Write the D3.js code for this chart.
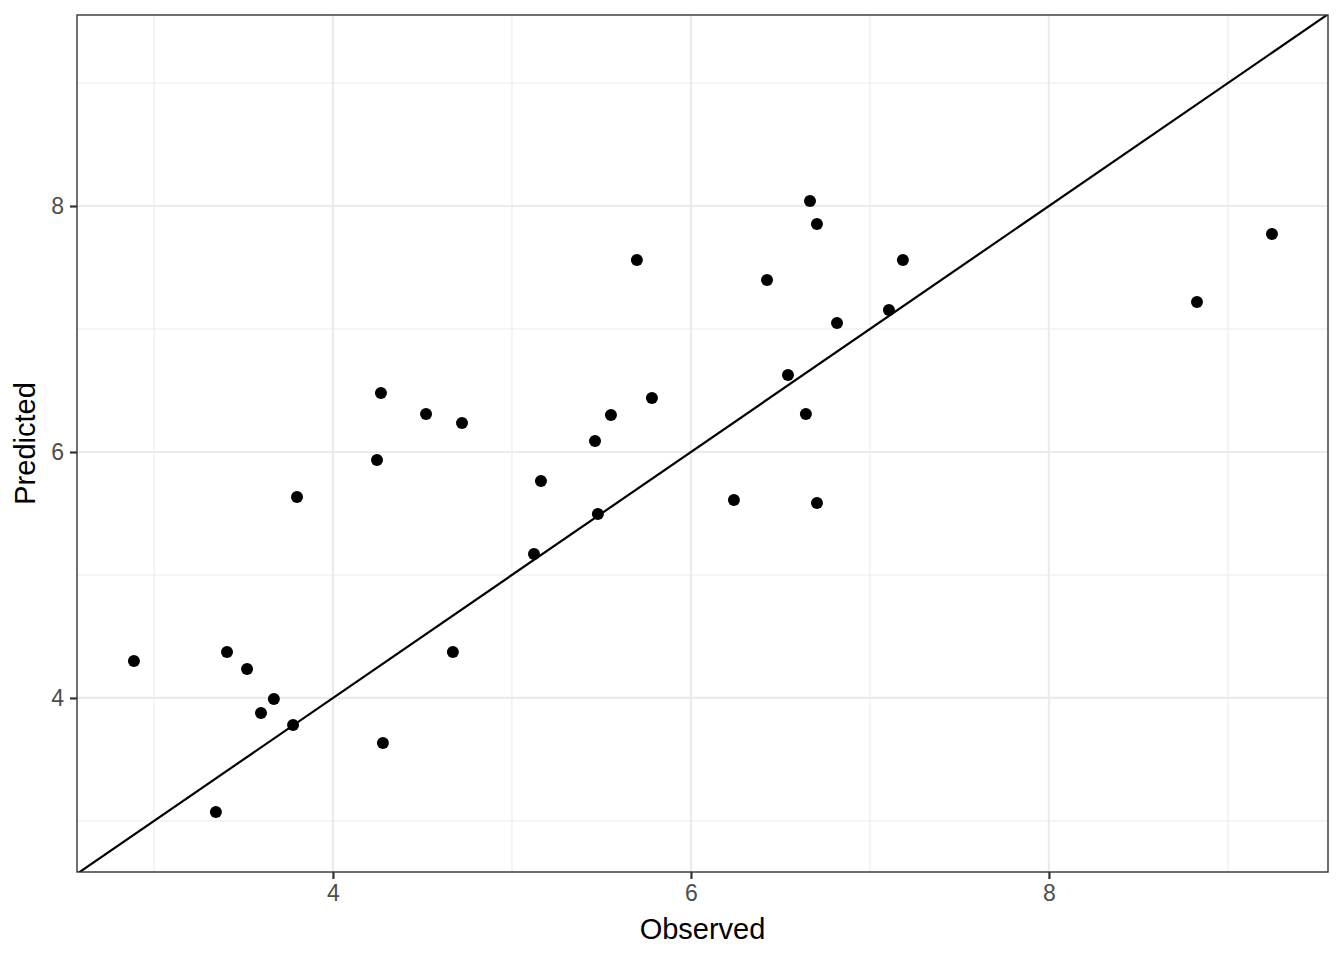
<!DOCTYPE html>
<html><head><meta charset="utf-8">
<script src="https://cdn.jsdelivr.net/npm/d3@7"></script>
<style>body{margin:0;background:#fff;} svg{display:block;font-family:"Liberation Sans",Arial,sans-serif;}</style>
</head><body>
<svg id="chart" width="1344" height="960"></svg>
<script>
const observed = [2.888,3.346,3.408,3.520,3.598,3.670,3.777,3.799,4.246,4.268,4.279,4.520,4.670,4.721,5.123,5.162,5.464,5.480,5.553,5.698,5.782,6.240,6.425,6.542,6.642,6.665,6.704,6.704,6.816,7.106,7.184,8.827,9.246];
const predicted = [4.301,3.073,4.374,4.236,3.878,3.992,3.780,5.634,5.935,6.480,3.634,6.309,4.374,6.236,5.171,5.764,6.089,5.496,6.301,7.561,6.439,5.610,7.398,6.626,6.309,8.041,7.854,5.585,7.049,7.154,7.561,7.220,7.772];
const xTicks = [4,6,8];
const yTicks = [4,6,8];
const xMinor = [3,5,7,9];
const yMinor = [3,5,7,9];
const xLabel = "Observed";
const yLabel = "Predicted";

const svg = d3.select("#chart");
const m = {left:77, right:1328, top:15, bottom:872};
const x = d3.scaleLinear().domain([2.570, 9.559]).range([m.left, m.right]);
const y = d3.scaleLinear().domain([2.585, 9.553]).range([m.bottom, m.top]);

const g = svg.append("g");
// grid
g.selectAll(".xmin").data(xMinor).join("line").attr("x1",d=>x(d)).attr("x2",d=>x(d)).attr("y1",m.top).attr("y2",m.bottom).attr("stroke","#ebebeb").attr("stroke-width",1.1);
g.selectAll(".ymin").data(yMinor).join("line").attr("y1",d=>y(d)).attr("y2",d=>y(d)).attr("x1",m.left).attr("x2",m.right).attr("stroke","#ebebeb").attr("stroke-width",1.1);
g.selectAll(".xmaj").data(xTicks).join("line").attr("x1",d=>x(d)).attr("x2",d=>x(d)).attr("y1",m.top).attr("y2",m.bottom).attr("stroke","#ebebeb").attr("stroke-width",2.2);
g.selectAll(".ymaj").data(yTicks).join("line").attr("y1",d=>y(d)).attr("y2",d=>y(d)).attr("x1",m.left).attr("x2",m.right).attr("stroke","#ebebeb").attr("stroke-width",2.2);

// clip
svg.append("clipPath").attr("id","clip").append("rect").attr("x",m.left).attr("y",m.top).attr("width",m.right-m.left).attr("height",m.bottom-m.top);

// identity line
const lo = Math.min(x.domain()[0], y.domain()[0]), hi = Math.max(x.domain()[1], y.domain()[1]);
svg.append("line").attr("clip-path","url(#clip)")
  .attr("x1",x(lo)).attr("y1",y(lo)).attr("x2",x(hi)).attr("y2",y(hi))
  .attr("stroke","#000").attr("stroke-width",2.2);

// points
svg.append("g").selectAll("circle").data(observed.map((o,i)=>[o,predicted[i]])).join("circle")
  .attr("cx",d=>x(d[0])).attr("cy",d=>y(d[1])).attr("r",6).attr("fill","#000");

// panel border
svg.append("rect").attr("x",m.left).attr("y",m.top).attr("width",m.right-m.left).attr("height",m.bottom-m.top)
  .attr("fill","none").attr("stroke","#333333").attr("stroke-width",1.4);

// axes
const xAxis = d3.axisBottom(x).tickValues(xTicks).tickSize(7).tickPadding(6).tickFormat(d3.format("d"));
const yAxis = d3.axisLeft(y).tickValues(yTicks).tickSize(7).tickPadding(6).tickFormat(d3.format("d"));
const xa = svg.append("g").attr("transform",`translate(0,${m.bottom})`).call(xAxis);
const ya = svg.append("g").attr("transform",`translate(${m.left},0)`).call(yAxis);
[xa,ya].forEach(a=>{
  a.attr("font-size",23).attr("font-family","Liberation Sans, Arial, sans-serif");
  a.select(".domain").remove();
  a.selectAll(".tick line").attr("stroke","#333333").attr("stroke-width",2.2);
  a.selectAll(".tick text").attr("fill","#4d4d4d");
});

svg.append("text").attr("x",(m.left+m.right)/2).attr("y",939).attr("text-anchor","middle")
  .attr("font-size",29).attr("fill","#000").text(xLabel);
svg.append("text").attr("transform",`translate(35,${(m.top+m.bottom)/2}) rotate(-90)`).attr("text-anchor","middle")
  .attr("font-size",29).attr("fill","#000").text(yLabel);
</script>
</body></html>
